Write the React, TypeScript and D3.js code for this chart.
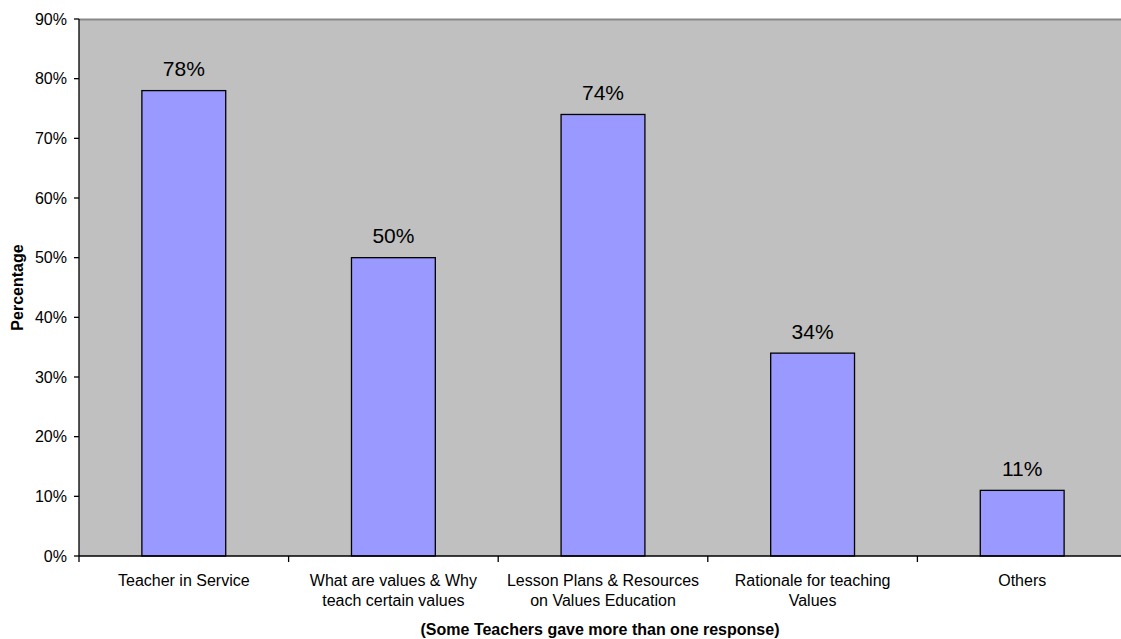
import React from "react";
import * as d3 from "d3";

const categories: string[][] = [
  ["Teacher in Service"],
  ["What are values & Why", "teach certain values"],
  ["Lesson Plans & Resources", "on Values Education"],
  ["Rationale for teaching", "Values"],
  ["Others"],
];
const values: number[] = [78, 50, 74, 34, 11];
const yTicks: number[] = [0, 10, 20, 30, 40, 50, 60, 70, 80, 90];
const yLabel = "Percentage";
const xTitle = "(Some Teachers gave more than one response)";

const W = 1121;
const H = 639;
const left = 79;
const right = 1127;
const top = 19;
const bottom = 556;
const font = "'Liberation Sans', Arial, sans-serif";

export default function App() {
  const x = d3
    .scaleBand<number>()
    .domain(categories.map((_, i) => i))
    .range([left, right])
    .paddingInner(0)
    .paddingOuter(0);
  const y = d3.scaleLinear().domain([0, 90]).range([bottom, top]);
  const bw = x.bandwidth() * 0.4;
  const boundaries = d3.range(categories.length + 1).map((i) => left + i * x.step());

  return (
    <div style={{ position: "fixed", left: 0, top: 0 }}>
      <svg width={W} height={H} style={{ display: "block" }}>
        <rect x={0} y={0} width={W} height={H} fill="#fff" />
        <rect x={left} y={top} width={right - left} height={bottom - top} fill="#C0C0C0" />
        <line x1={left} x2={right} y1={top + 0.5} y2={top + 0.5} stroke="#888" strokeWidth={2} />
        {values.map((v, i) => {
          const cx = (x(i) as number) + x.bandwidth() / 2;
          return (
            <g key={i}>
              <rect
                x={cx - bw / 2}
                y={y(v)}
                width={bw}
                height={bottom - y(v)}
                fill="#9999FF"
                stroke="#000"
                strokeWidth={1.3}
              />
              <text
                x={cx}
                y={y(v) - 14.5}
                textAnchor="middle"
                fontFamily={font}
                fontSize={21}
                fill="#000"
              >
                {v}%
              </text>
              {categories[i].map((line, j) => (
                <text
                  key={j}
                  x={cx}
                  y={586 + j * 19.5}
                  textAnchor="middle"
                  fontFamily={font}
                  fontSize={16}
                  fill="#000"
                >
                  {line}
                </text>
              ))}
            </g>
          );
        })}
        {/* y axis */}
        <line x1={left} x2={left} y1={top} y2={bottom} stroke="#000" strokeWidth={1.3} />
        {yTicks.map((t) => (
          <g key={t}>
            <line x1={left - 5} x2={left} y1={y(t)} y2={y(t)} stroke="#000" strokeWidth={1.3} />
            <text
              x={67}
              y={y(t)}
              dy="0.36em"
              textAnchor="end"
              fontFamily={font}
              fontSize={16}
              fill="#000"
            >
              {t}%
            </text>
          </g>
        ))}
        {/* x axis */}
        <line x1={left} x2={right} y1={bottom} y2={bottom} stroke="#000" strokeWidth={1.3} />
        {boundaries.map((b, i) => (
          <line key={i} x1={b} x2={b} y1={bottom} y2={bottom + 6} stroke="#000" strokeWidth={1.3} />
        ))}
        <text
          transform={`translate(23,${(top + bottom) / 2}) rotate(-90)`}
          textAnchor="middle"
          fontFamily={font}
          fontSize={16}
          fontWeight="bold"
          fill="#000"
        >
          {yLabel}
        </text>
        <text
          x={600}
          y={635}
          textAnchor="middle"
          fontFamily={font}
          fontSize={16}
          fontWeight="bold"
          fill="#000"
        >
          {xTitle}
        </text>
      </svg>
    </div>
  );
}
